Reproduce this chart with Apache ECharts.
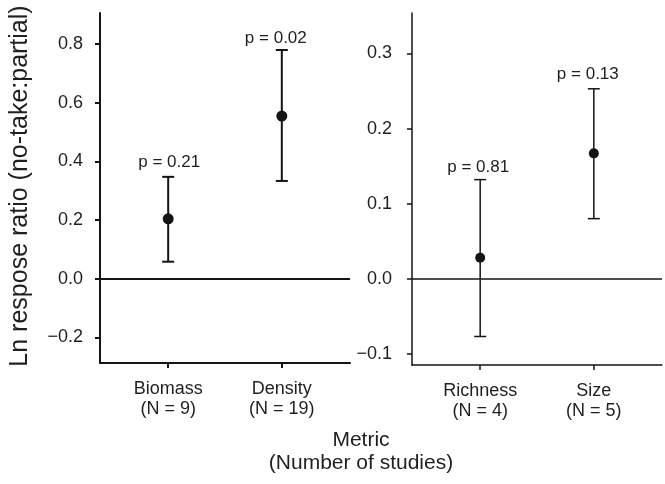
<!DOCTYPE html>
<html>
<head>
<meta charset="utf-8">
<script src="https://cdn.jsdelivr.net/npm/echarts@6/dist/echarts.min.js"></script>
<style>
html,body{margin:0;padding:0;background:#fff;}
#c{width:665px;height:484px;}
</style>
</head>
<body>
<div id="c"></div>
<script>
// ---- data ----
var leftCategories = ['Biomass\n(N = 9)', 'Density\n(N = 19)'];
var leftMean = [0.204, 0.554];
var leftLower = [0.058, 0.333];
var leftUpper = [0.347, 0.779];
var leftPText = ['p = 0.21', 'p = 0.02'];
var leftPY = [0.395, 0.82];
var leftTicks = [-0.2, 0.0, 0.2, 0.4, 0.6, 0.8];

var rightCategories = ['Richness\n(N = 4)', 'Size\n(N = 5)'];
var rightMean = [0.028, 0.167];
var rightLower = [-0.077, 0.080];
var rightUpper = [0.132, 0.253];
var rightPText = ['p = 0.81', 'p = 0.13'];
var rightPY = [0.148, 0.272];
var rightTicks = [-0.1, 0.0, 0.1, 0.2, 0.3];

var yTitle = 'Ln respose ratio (no-take:partial)';
var xTitle1 = 'Metric';
var xTitle2 = '(Number of studies)';

// ---- styles ----
var FONT = '"Liberation Sans", Arial, Helvetica, sans-serif';
var INK = '#141414';
var TXT = '#1f1f1f';
var panels = [
  {lw: 2, sym: 11, labelMargin: 17, pOffsets: [[1,0],[-6,0]]},
  {lw: 1.5, sym: 10, labelMargin: 20, pOffsets: [[-2,0],[-6,0]]}
];

var chart = echarts.init(document.getElementById('c'), null, {renderer: 'canvas'});

function fmtY(v){
  if (Math.abs(v) < 1e-9) return '0.0';
  var s = v.toFixed(1);
  return s.replace('-', '\u2212');
}

function makeX(idx, cats){
  var p = panels[idx];
  return {
    type: 'value', gridIndex: idx, min: 0.4, max: 2.6,
    splitLine: {show: false},
    axisLine: {show: true, onZero: false, lineStyle: {color: INK, width: p.lw}},
    axisTick: {show: true, length: 5, inside: false, customValues: [1, 2], lineStyle: {color: INK, width: p.lw}},
    axisLabel: {
      show: true, customValues: [1, 2], margin: 16,
      fontFamily: FONT, fontSize: 18, lineHeight: 20, color: TXT, align: 'center',
      formatter: function(v){ return cats[Math.round(v) - 1]; }
    }
  };
}
function makeY(idx, min, max, ticks){
  var p = panels[idx];
  return {
    type: 'value', gridIndex: idx, min: min, max: max,
    splitLine: {show: false},
    axisLine: {show: true, onZero: false, lineStyle: {color: INK, width: p.lw}},
    axisTick: {show: true, length: 5, customValues: ticks, lineStyle: {color: INK, width: p.lw}},
    axisLabel: {
      show: true, customValues: ticks, margin: p.labelMargin,
      fontFamily: FONT, fontSize: 18, color: TXT,
      formatter: fmtY
    }
  };
}

function errSeries(idx, lower, upper){
  var p = panels[idx];
  var d = lower.map(function(l, i){ return [i + 1, l, upper[i]]; });
  return {
    type: 'custom', xAxisIndex: idx, yAxisIndex: idx, data: d, silent: true, z: 3,
    renderItem: function(params, api){
      var x = api.value(0);
      var a = api.coord([x, api.value(1)]);
      var b = api.coord([x, api.value(2)]);
      var hw = 6;
      var st = {stroke: INK, lineWidth: p.lw};
      return {type: 'group', children: [
        {type: 'line', shape: {x1: a[0], y1: a[1], x2: b[0], y2: b[1]}, style: st},
        {type: 'line', shape: {x1: a[0]-hw, y1: a[1], x2: a[0]+hw, y2: a[1]}, style: st},
        {type: 'line', shape: {x1: b[0]-hw, y1: b[1], x2: b[0]+hw, y2: b[1]}, style: st}
      ]};
    }
  };
}
function pointSeries(idx, mean){
  var p = panels[idx];
  return {
    type: 'scatter', xAxisIndex: idx, yAxisIndex: idx, z: 4, silent: true,
    symbol: 'circle', symbolSize: p.sym, itemStyle: {color: INK, opacity: 1},
    data: mean.map(function(m, i){ return [i + 1, m]; }),
    markLine: {
      silent: true, symbol: 'none', animation: false,
      label: {show: false},
      lineStyle: {color: INK, width: p.lw, type: 'solid', opacity: 1},
      data: [{yAxis: 0}]
    }
  };
}
function pSeries(idx, ys, texts){
  var p = panels[idx];
  return {
    type: 'scatter', xAxisIndex: idx, yAxisIndex: idx, symbolSize: 0, silent: true, z: 5,
    itemStyle: {opacity: 1},
    data: ys.map(function(y, i){
      return {value: [i + 1, y], label: {offset: p.pOffsets[i]}};
    }),
    label: {
      show: true, position: 'inside', color: TXT, fontFamily: FONT, fontSize: 17,
      formatter: function(prm){ return texts[prm.dataIndex]; }
    }
  };
}

var option = {
  animation: false,
  backgroundColor: '#fff',
  grid: [
    {left: 100, top: 13, width: 250, height: 350},
    {left: 412, top: 13, width: 250, height: 352}
  ],
  xAxis: [makeX(0, leftCategories), makeX(1, rightCategories)],
  yAxis: [makeY(0, -0.287, 0.905, leftTicks), makeY(1, -0.115, 0.354, rightTicks)],
  series: [
    errSeries(0, leftLower, leftUpper), pointSeries(0, leftMean), pSeries(0, leftPY, leftPText),
    errSeries(1, rightLower, rightUpper), pointSeries(1, rightMean), pSeries(1, rightPY, rightPText)
  ],
  graphic: [
    {type: 'text', x: 20, y: 186, rotation: Math.PI / 2,
     style: {text: yTitle, fontFamily: FONT, fontSize: 25, fill: TXT, align: 'center', verticalAlign: 'middle'}},
    {type: 'text', x: 361, y: 440,
     style: {text: xTitle1, fontFamily: FONT, fontSize: 21, fill: TXT, align: 'center', verticalAlign: 'middle'}},
    {type: 'text', x: 361, y: 463,
     style: {text: xTitle2, fontFamily: FONT, fontSize: 21, fill: TXT, align: 'center', verticalAlign: 'middle'}}
  ]
};
chart.setOption(option);
</script>
</body>
</html>
